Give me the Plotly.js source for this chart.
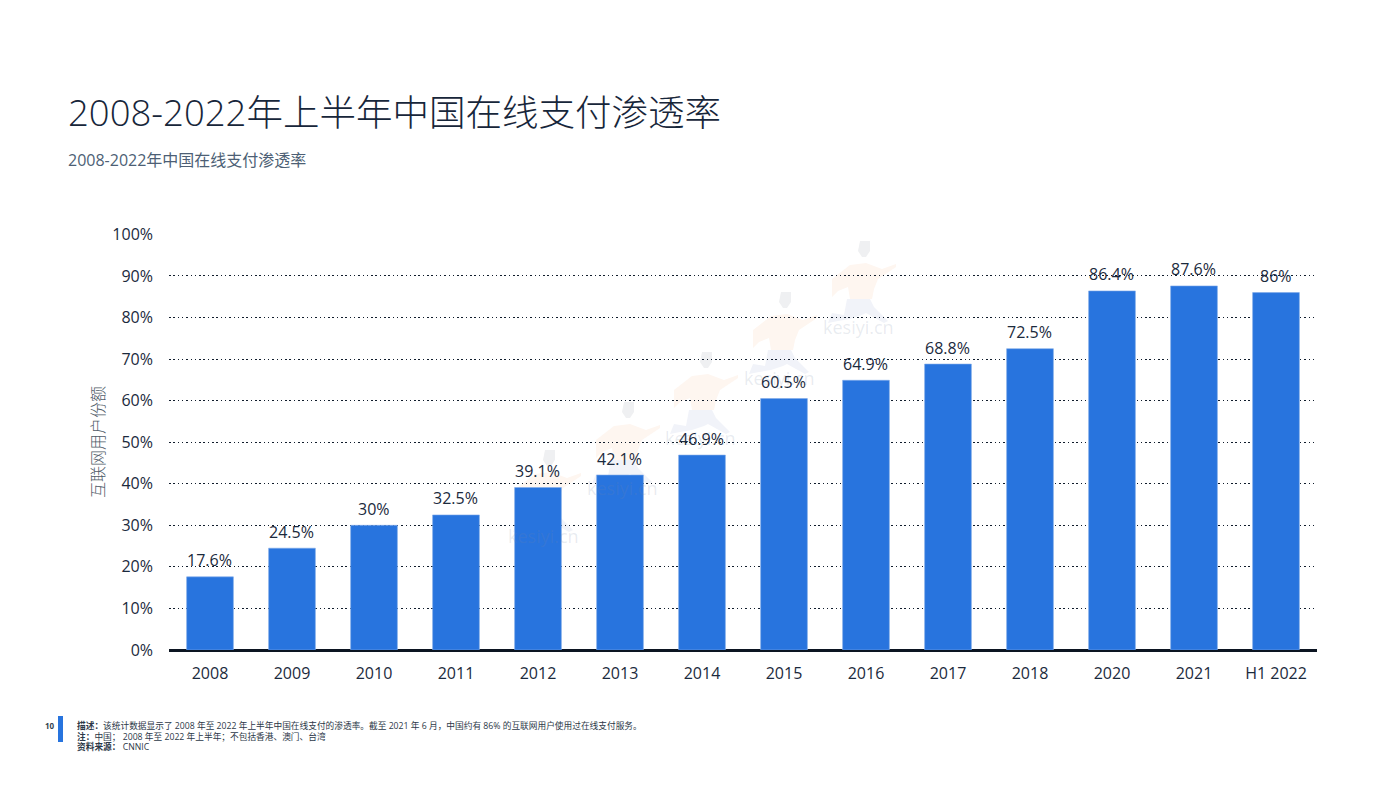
<!DOCTYPE html>
<html lang="zh">
<head>
<meta charset="utf-8">
<script src="https://cdn.plot.ly/plotly-3.0.1.min.js"></script>
<style>html,body{margin:0;padding:0;background:#fff}</style>
</head>
<body>
<div id="chart" style="width:1400px;height:788px"></div>
<script>
const categories = ["2008","2009","2010","2011","2012","2013","2014","2015","2016","2017","2018","2020","2021","H1 2022"];
const values = [17.6,24.5,30,32.5,39.1,42.1,46.9,60.5,64.9,68.8,72.5,86.4,87.6,86];
const valueLabels = ["17.6%","24.5%","30%","32.5%","39.1%","42.1%","46.9%","60.5%","64.9%","68.8%","72.5%","86.4%","87.6%","86%"];
const yTicks = [0,10,20,30,40,50,60,70,80,90,100];
const yTickLabels = ["0%","10%","20%","30%","40%","50%","60%","70%","80%","90%","100%"];
const titleText = "2008-2022年上半年中国在线支付渗透率";
const subtitleText = "2008-2022年中国在线支付渗透率";
const yTitleText = "互联网用户份额";
const pageNumber = "10";
const noteLines = [
  "<b>描述：</b>该统计数据显示了 2008 年至 2022 年上半年中国在线支付的渗透率。截至 2021 年 6 月，中国约有 86% 的互联网用户使用过在线支付服务。",
  "<b>注：</b>中国； 2008 年至 2022 年上半年；不包括香港、澳门、台湾",
  "<b>资料来源：</b> CNNIC"
];
const watermarkText = "kesiyi.cn";
const watermarkPixels = [[543,536],[622,488],[700,438],[779,378],[858,327]];

const W = 1400, H = 788;
const m = {l:169, r:83, t:234, b:138};
const pw = W - m.l - m.r, ph = H - m.t - m.b;
const px = x => (x - m.l) / pw;
const py = y => (H - m.b - y) / ph;
const font = '"Open Sans","Noto Sans CJK SC",sans-serif';
const dark = "#1b2a3d";

const ann = [];
function label(text, x, y, size, color, anchor, extra) {
  ann.push(Object.assign({text, xref:"paper", yref:"paper", x:px(x), y:py(y), showarrow:false,
    xanchor:anchor||"left", yanchor:"middle", align:"left", font:{family:font, size, color}}, extra||{}));
}
label(titleText, 66, 112, 36.5, "#17263a", "left", {font:{family:font, size:36.5, color:"#17263a", weight:300}});
label(subtitleText, 66, 160, 16, "#4d5f75");
label(yTitleText, 98, 442, 16, "#4f5b68", "center", {textangle:-90, font:{family:font, size:16, color:"#4f5b68", weight:300}});
label(pageNumber, 43, 725, 8, "#333f4f", "left", {font:{family:font, size:8, color:"#333f4f", weight:700}});
noteLines.forEach((t,i) => label(t, 75, 726 + i*10.5, 8.7, "#2c3848"));
watermarkPixels.forEach(p => label(watermarkText, p[0], p[1], 18, "rgba(120,135,165,0.17)", "center"));

categories.forEach((c,i) => ann.push({text:valueLabels[i], x:i, y:values[i], xref:"x", yref:"y", showarrow:false,
  xanchor:"center", yanchor:"middle", yshift:16.5, xshift:-0.5, font:{family:font, size:16, color:dark}}));

/* faint decorative runner behind each watermark word, offsets in px from the word */
const runnerParts = [
  {fill:"#fef6f0", d:[[-26,-48],[-8,-62],[8,-64],[24,-58],[38,-63],[38,-60],[20,-48],[16,-38],[14,-28],[-8,-28],[-10,-40],[-20,-36],[-26,-30]]},
  {fill:"#f1f3f9", d:[[-11,-28],[12,-28],[16,-20],[30,-6],[26,-4],[8,-14],[4,-12],[-8,-8],[-20,-6],[-30,-4],[-26,-14],[-14,-12]]},
  {fill:"#eff0f2", d:[[2,-86],[12,-86],[12,-76],[8,-70],[4,-70],[0,-76]]}
];
const shapes = [{type:"rect", xref:"paper", yref:"paper", x0:px(58), x1:px(63), y0:py(716), y1:py(742), fillcolor:"#2874de", line:{width:0}}];
watermarkPixels.forEach(p => runnerParts.forEach(part => {
  const path = part.d.map((o,i) => (i?"L":"M") + px(p[0]+o[0]) + "," + py(p[1]+o[1])).join(" ") + " Z";
  shapes.push({type:"path", xref:"paper", yref:"paper", path, fillcolor:part.fill, line:{width:0}, layer:"below"});
}));

Plotly.newPlot("chart", [{
  type:"bar",
  x:categories,
  y:values,
  cliponaxis:false,
  marker:{color:"#2874de", line:{color:"#7ea9ea", width:0.6}},
  hoverinfo:"x+y"
}], {
  width:W, height:H,
  margin:m,
  paper_bgcolor:"#fff",
  plot_bgcolor:"rgba(0,0,0,0)",
  showlegend:false,
  bargap:0.43,
  font:{family:font, color:dark},
  xaxis:{type:"category", categoryorder:"array", categoryarray:categories, range:[-0.5,categories.length-0.5], tickfont:{family:font,size:16,color:dark}, showgrid:false, ticks:"", ticklen:0, ticklabelstandoff:12, showline:false, zeroline:false, automargin:false},
  yaxis:{range:[0,100.1], tickvals:yTicks, ticktext:yTickLabels, tickfont:{family:font,size:16,color:dark}, ticklabelstandoff:15,
    showgrid:true, gridcolor:"#101c2c", griddash:"1.5px,2.8px", gridwidth:1, zeroline:true, zerolinecolor:"#0c1522", zerolinewidth:3,
    ticks:"", showline:false, automargin:false},
  annotations:ann,
  shapes
}, {displayModeBar:false, staticPlot:true});
</script>
</body>
</html>
